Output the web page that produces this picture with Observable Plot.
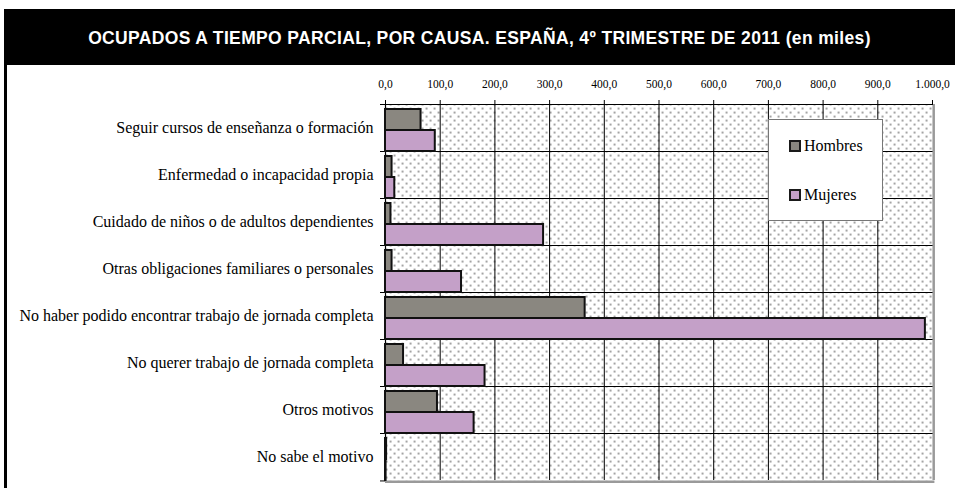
<!DOCTYPE html>
<html>
<head>
<meta charset="utf-8">
<script src="https://cdn.jsdelivr.net/npm/d3@7"></script>
<script src="https://cdn.jsdelivr.net/npm/@observablehq/plot@0.6"></script>
<style>
  body { margin: 0; background: #fff; }
  #wrap { position: relative; width: 955px; height: 488px; overflow: hidden; background: #fff; }
  #title { position: absolute; left: 4px; top: 9px; width: 951px; height: 56px; background: #000; color: #fff;
           font: bold 17.5px "Liberation Sans", Arial, sans-serif; letter-spacing: 0.35px; display: flex; align-items: center; justify-content: center; white-space: nowrap; padding-top: 3px; box-sizing: border-box; }
  #lborder { position: absolute; left: 4px; top: 9px; width: 3px; height: 479px; background: #000; }
  #chart { position: absolute; left: 0; top: 65px; }
  #legend { position: absolute; left: 768px; top: 119px; width: 113px; height: 100px; background: #fff; border: 1px solid #777;
            font: 16px "Liberation Serif", "Times New Roman", serif; color: #000; }
  .item { position: absolute; left: 20px; display: flex; align-items: center; }
  .sw { width: 8px; height: 8px; border: 2px solid #1a1a1a; margin-right: 3px; }
</style>
</head>
<body>
<div id="wrap">
  <svg width="0" height="0" style="position:absolute">
    <defs>
      <pattern id="dots" patternUnits="userSpaceOnUse" width="8" height="8">
        <rect width="8" height="8" fill="#fff"></rect>
        <rect x="1.3" y="1.3" width="1.6" height="1.6" fill="#707070"></rect>
        <rect x="5.3" y="5.3" width="1.6" height="1.6" fill="#707070"></rect>
      </pattern>
    </defs>
  </svg>
  <div id="title">OCUPADOS A TIEMPO PARCIAL, POR CAUSA. ESPAÑA, 4º TRIMESTRE DE 2011 (en miles)</div>
  <div id="lborder"></div>
  <div id="chart"></div>
  <div id="legend"></div>
</div>
<script>
const causes = [
  "Seguir cursos de enseñanza o formación",
  "Enfermedad o incapacidad propia",
  "Cuidado de niños o de adultos dependientes",
  "Otras obligaciones familiares o personales",
  "No haber podido encontrar trabajo de jornada completa",
  "No querer trabajo de jornada completa",
  "Otros motivos",
  "No sabe el motivo"
];
const series = ["Hombres", "Mujeres"];
const hombres = [65, 12, 10, 12, 365, 33, 95, 2];
const mujeres = [91, 17, 289, 139, 987, 182, 162, 1];
const xTicks = [0, 100, 200, 300, 400, 500, 600, 700, 800, 900, 1000];
const colors = ["#8a8780", "#c4a0c8"];

const table = causes.flatMap((c, i) => [
  {cause: c, sex: series[0], value: hombres[i]},
  {cause: c, sex: series[1], value: mujeres[i]}
]);

const es = d3.formatLocale({decimal: ",", thousands: ".", grouping: [3], currency: ["", " €"]});
const fmt = es.format(",.1f");

const W = 955, H = 423, mT = 38, mB = 7, mL = 385, mR = 23;
const padOuter = 0.08;
const facetH = (H - mT - mB) / causes.length;
const bw = facetH / (series.length + 2 * padOuter);
const last = causes[causes.length - 1];

const chart = Plot.plot({
  width: W, height: H,
  marginTop: mT, marginBottom: mB, marginLeft: mL, marginRight: mR,
  style: {fontFamily: "'Liberation Serif', 'Times New Roman', serif", background: "transparent", color: "#000"},
  x: {domain: [0, 1000], label: null},
  y: {domain: series, paddingInner: 0, paddingOuter: padOuter, align: 1, axis: null},
  fy: {domain: causes, padding: 0, label: null},
  color: {domain: series, range: colors},
  facet: {data: table, y: "cause"},
  marks: [
    Plot.frame({fill: "url(#dots)", stroke: null}),
    Plot.ruleX(xTicks.slice(1, -1), {stroke: "#000", strokeWidth: 1}),
    Plot.frame({anchor: "top", stroke: "#000", strokeWidth: 1, insetLeft: -5}),
    Plot.ruleX([0], {stroke: "#000", strokeWidth: 1.2}),
    Plot.ruleX([1000], {stroke: "#9a9a9a", strokeWidth: 2.5, dx: 1.2}),
    Plot.ruleY(table, {filter: d => d.cause === last && d.sex === series[1], y: "sex", dy: bw / 2, stroke: "#000", insetLeft: -5, x1: 0, x2: 0}),
    Plot.ruleY(table, {filter: d => d.cause === last && d.sex === series[1], y: "sex", dy: bw / 2 + 0.8, stroke: "#9a9a9a", strokeWidth: 2.5, x1: 0, x2: 1000, insetRight: -2.4}),
    Plot.barX(table, {x: "value", y: "sex", fill: "sex", stroke: "#111", strokeWidth: 2}),
    Plot.axisX({anchor: "top", ticks: xTicks, tickSize: 5, tickFormat: () => "", label: null, stroke: "#000"}),
    Plot.axisX({anchor: "top", ticks: xTicks, tickSize: 0, tickPadding: 17, tickFormat: fmt, fontSize: 11.5, label: null}),
    Plot.axisFy({anchor: "left", tickSize: 0, tickPadding: 12, fontSize: 16, label: null})
  ]
});
document.getElementById("chart").appendChild(chart);

const legend = document.getElementById("legend");
series.forEach((s, i) => {
  const item = document.createElement("div");
  item.className = "item";
  item.style.top = (i === 0 ? 17 : 66) + "px";
  const sw = document.createElement("div");
  sw.className = "sw";
  sw.style.background = colors[i];
  const t = document.createElement("span");
  t.textContent = s;
  item.appendChild(sw);
  item.appendChild(t);
  legend.appendChild(item);
});
</script>
</body>
</html>
